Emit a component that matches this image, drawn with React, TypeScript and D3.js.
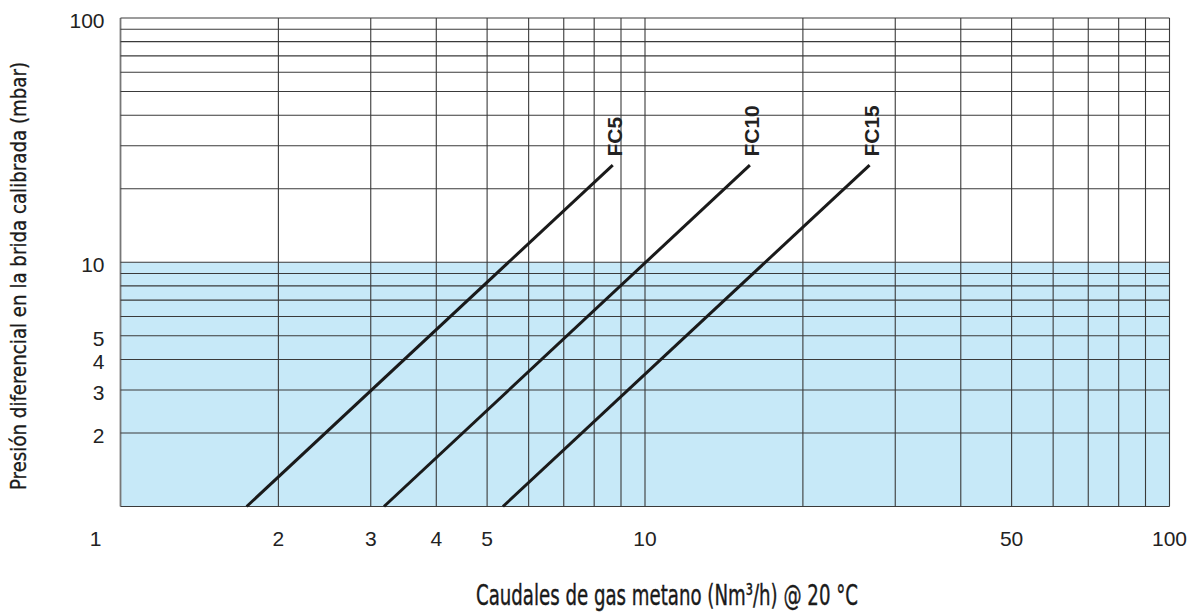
import { useEffect, useRef } from 'react';
import * as d3 from 'd3';

// flow (Nm3/h) vs differential pressure (mbar), log-log
const fc5 = [{ q: 1.74, p: 1 }, { q: 8.68, p: 25 }];
const fc10 = [{ q: 3.18, p: 1 }, { q: 15.85, p: 25 }];
const fc15 = [{ q: 5.36, p: 1 }, { q: 26.8, p: 25 }];
const seriesNames = ['FC5', 'FC10', 'FC15'];

const xTickLabels = [1, 2, 3, 4, 5, 10, 50, 100];
const yTickLabels = [100, 10, 5, 4, 3, 2];
const shadedRange = [1, 10];

const xTitle = 'Caudales de gas metano (Nm³/h) @ 20 °C';
const yTitle = 'Presión diferencial en la brida calibrada (mbar)';

export default function App() {
  const svgRef = useRef<SVGSVGElement>(null);

  useEffect(() => {
    if (!svgRef.current) return;
    const svg = d3.select(svgRef.current);
    svg.selectAll('*').remove();

    const W = 1199, H = 613;
    const margin = { top: 18, right: 29.5, bottom: 106.5, left: 120.5 };
    svg.attr('width', W).attr('height', H);

    const x = d3.scaleLog().domain([1, 100]).range([margin.left, W - margin.right]);
    const y = d3.scaleLog().domain([1, 100]).range([H - margin.bottom, margin.top]);

    // ── shaded band (1..10 mbar) ─────────────────────────
    svg.append('rect')
      .attr('x', x(1))
      .attr('y', y(shadedRange[1]))
      .attr('width', x(100) - x(1))
      .attr('height', y(shadedRange[0]) - y(shadedRange[1]))
      .attr('fill', '#c7e9f8');

    // ── grid ────────────────────────────────────────────
    const grid = svg.append('g').attr('stroke', '#3a3a3a').attr('stroke-width', 1.1);
    x.ticks().forEach(v => {
      grid.append('line')
        .attr('x1', x(v)).attr('x2', x(v))
        .attr('y1', y(1)).attr('y2', y(100))
        .attr('stroke', v === 1 ? '#777' : null)
        .attr('stroke-width', v === 1 ? 1.8 : null);
    });
    y.ticks().forEach(v => {
      grid.append('line')
        .attr('x1', x(1)).attr('x2', x(100))
        .attr('y1', y(v)).attr('y2', y(v));
    });

    // ── tick labels ─────────────────────────────────────
    const font = '"Liberation Sans", Arial, sans-serif';
    svg.append('g')
      .selectAll('text')
      .data(yTickLabels)
      .enter().append('text')
      .attr('x', x(1) - 16)
      .attr('y', d => y(d) + 10)
      .attr('text-anchor', 'end')
      .attr('font-family', font)
      .attr('font-size', 21)
      .attr('fill', '#222')
      .text(d => d);

    svg.append('g')
      .selectAll('text')
      .data(xTickLabels)
      .enter().append('text')
      .attr('x', d => x(d) + (d === 1 ? -25 : 0))
      .attr('y', y(1) + 39)
      .attr('text-anchor', 'middle')
      .attr('font-family', font)
      .attr('font-size', 21)
      .attr('fill', '#222')
      .text(d => d);

    // ── curves ──────────────────────────────────────────
    const line = d3.line<{ q: number; p: number }>()
      .x(d => x(d.q))
      .y(d => y(d.p));

    [fc5, fc10, fc15].forEach((s, i) => {
      svg.append('path')
        .datum(s)
        .attr('fill', 'none')
        .attr('stroke', '#1a1a1a')
        .attr('stroke-width', 3)
        .attr('d', line);

      const end = s[s.length - 1];
      const lx = x(end.q) + 9;
      const ly = y(end.p) - 8.5;
      svg.append('text')
        .attr('transform', `translate(${lx},${ly}) rotate(-90)`)
        .attr('font-family', font)
        .attr('font-weight', 'bold')
        .attr('font-size', 21)
        .attr('fill', '#222')
        .text(seriesNames[i]);
    });

    // ── axis titles ─────────────────────────────────────
    const titleFont = '"Liberation Sans Narrow", "DejaVu Sans Condensed", "Roboto", sans-serif';
    svg.append('text')
      .attr('x', 476)
      .attr('y', 605)
      .attr('font-family', titleFont)
      .attr('font-size', 29)
      .attr('fill', '#1a1a1a')
      .attr('stroke', '#1a1a1a')
      .attr('stroke-width', 0.4)
      .attr('textLength', 382)
      .attr('lengthAdjust', 'spacingAndGlyphs')
      .text(xTitle);

    svg.append('text')
      .attr('transform', 'translate(26,490) rotate(-90)')
      .attr('font-family', titleFont)
      .attr('font-size', 22)
      .attr('fill', '#1a1a1a')
      .attr('stroke', '#1a1a1a')
      .attr('stroke-width', 0.3)
      .attr('textLength', 428)
      .attr('lengthAdjust', 'spacingAndGlyphs')
      .text(yTitle);
  }, []);

  return (
    <div style={{ position: 'absolute', left: 0, top: 0, width: 1199, height: 613, background: '#fff' }}>
      <svg ref={svgRef} style={{ display: 'block' }} />
    </div>
  );
}
